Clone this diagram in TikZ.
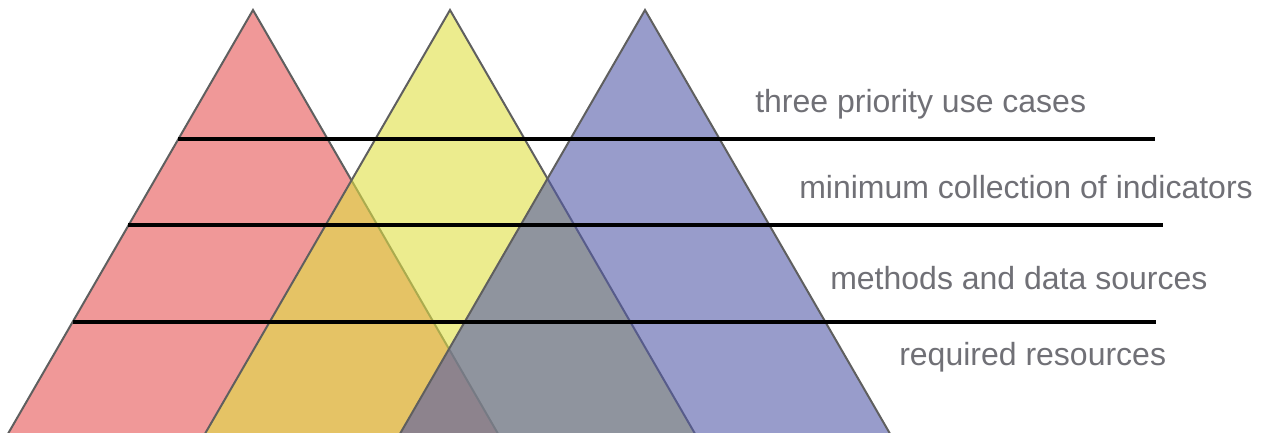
\documentclass[tikz,border=0pt]{standalone}
\usepackage{fontspec}
\setmainfont{Liberation Sans}
\usetikzlibrary{positioning}

\definecolor{tired}{RGB}{230,83,83}
\definecolor{tiyellow}{RGB}{223,223,67}
\definecolor{tiblue}{RGB}{83,90,168}
\definecolor{edgegray}{RGB}{95,95,95}
\definecolor{labelgray}{RGB}{112,112,118}

\begin{document}
\begin{tikzpicture}[
    x=0.75pt, y=-0.75pt,
    tier/.style={fill=#1, fill opacity=0.6, draw=edgegray, draw opacity=1, line width=1.5pt, line join=miter},
    divider/.style={draw=black, line width=2.3pt},
    caption/.style={anchor=base west, inner sep=0pt, text=labelgray, font=\fontsize{24}{28}\selectfont}
]
\useasboundingbox (0,0) rectangle (1269,432);
\clip (0,0) rectangle (1269,432);

% Triangles (bases run below the frame)
\draw[tier=tired] (253,10) -- (-1.4,450) -- (507.4,450) -- cycle;
\draw[tier=tiyellow] (450,10) -- (195.6,450) -- (704.4,450) -- cycle;
\draw[tier=tiblue] (645,10) -- (390.6,450) -- (899.4,450) -- cycle;

% Levels
\draw[divider] (178,139) -- (1155,139);
\draw[divider] (128,225) -- (1163,225);
\draw[divider] (73,322) -- (1156,322);

% Labels
\node[caption] (usecases) at (755,112) {three priority use cases};
\node[caption] (indicators) at (799,198) {minimum collection of indicators};
\node[caption] (methods) at (830,289) {methods and data sources};
\node[caption] (resources) at (899,365) {required resources};

\end{tikzpicture}
\end{document}
